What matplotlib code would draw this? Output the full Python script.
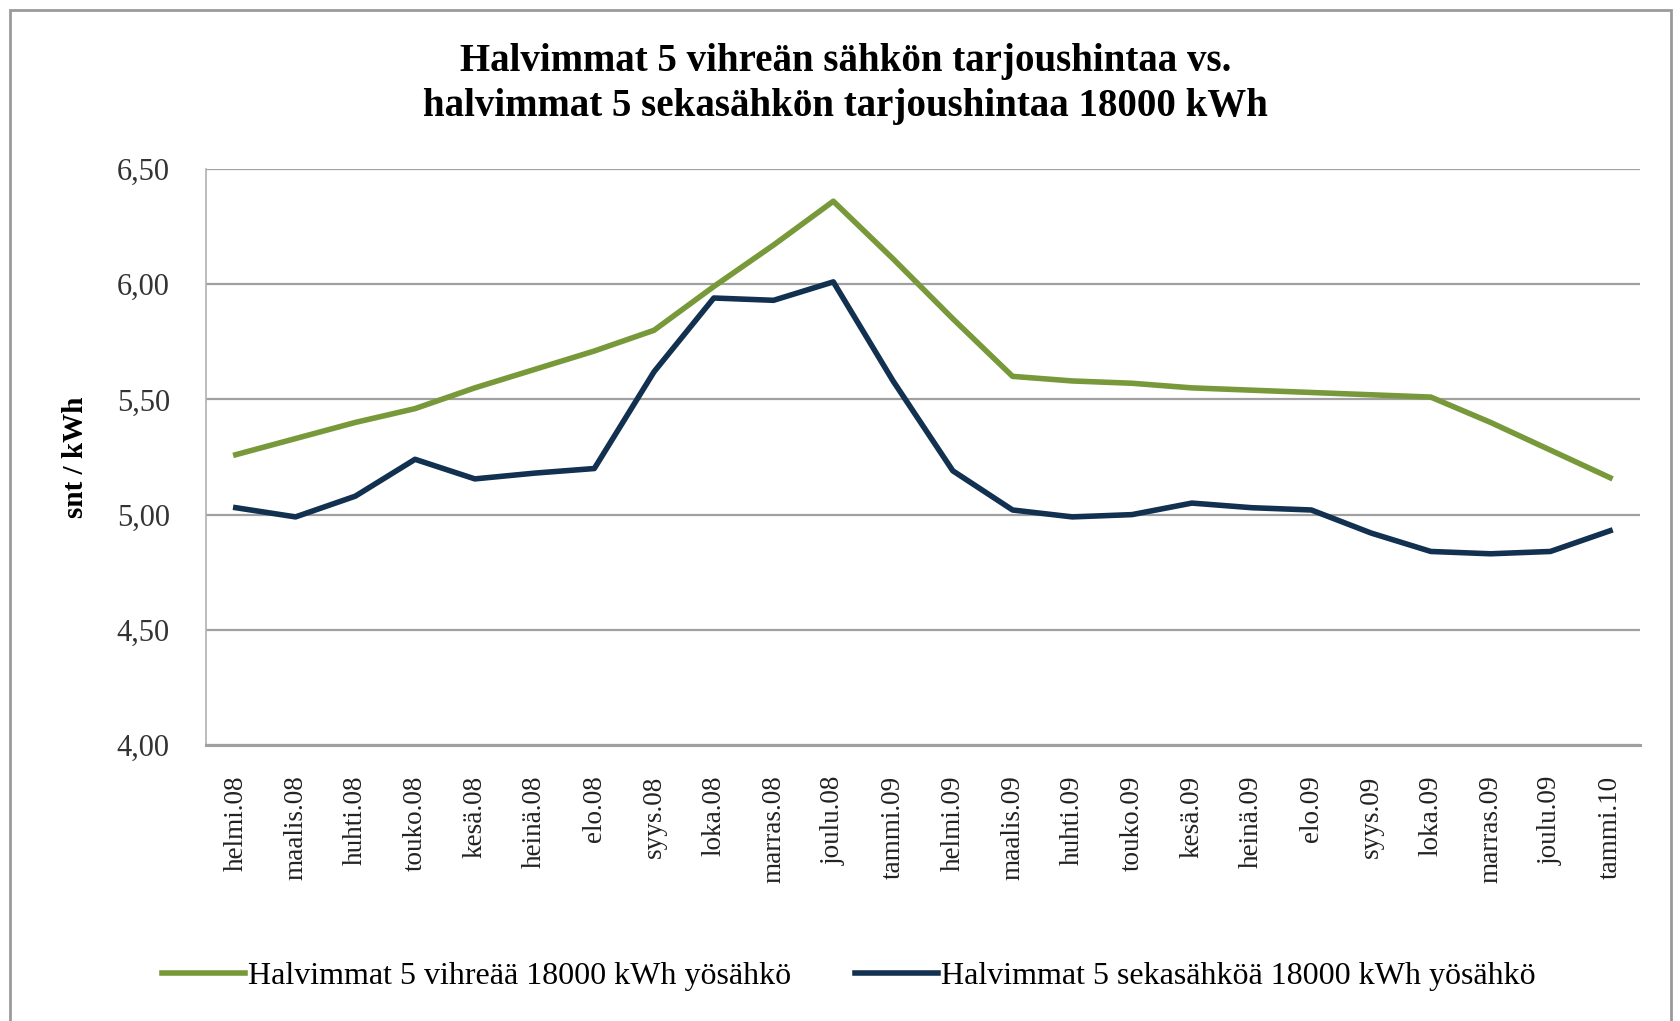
import numpy as np
import matplotlib.pyplot as plt
from matplotlib.patches import Rectangle


MONTHS = ['helmi.08', 'maalis.08', 'huhti.08', 'touko.08', 'kesä.08', 'heinä.08',
          'elo.08', 'syys.08', 'loka.08', 'marras.08', 'joulu.08', 'tammi.09',
          'helmi.09', 'maalis.09', 'huhti.09', 'touko.09', 'kesä.09', 'heinä.09',
          'elo.09', 'syys.09', 'loka.09', 'marras.09', 'joulu.09', 'tammi.10']

GREEN = [5.26, 5.33, 5.40, 5.46, 5.55, 5.63, 5.71, 5.80, 5.99, 6.17, 6.36, 6.11,
         5.85, 5.60, 5.58, 5.57, 5.55, 5.54, 5.53, 5.52, 5.51, 5.40, 5.28, 5.16]

MIXED = [5.03, 4.99, 5.08, 5.24, 5.155, 5.18, 5.20, 5.62, 5.94, 5.93, 6.01, 5.58,
         5.19, 5.02, 4.99, 5.00, 5.05, 5.03, 5.02, 4.92, 4.84, 4.83, 4.84, 4.93]

Y_TICKS = [4.00, 4.50, 5.00, 5.50, 6.00, 6.50]

LABEL_GREEN = 'Halvimmat 5 vihreää 18000 kWh yösähkö'
LABEL_MIXED = 'Halvimmat 5 sekasähköä 18000 kWh yösähkö'
TITLE = 'Halvimmat 5 vihreän sähkön tarjoushintaa vs.\nhalvimmat 5 sekasähkön tarjoushintaa 18000 kWh'


def main():
    plt.rcParams['font.family'] = ['Liberation Serif', 'DejaVu Serif']

    fig = plt.figure(figsize=(16.81, 10.21), dpi=100, facecolor='white')
    fig.patches.append(Rectangle((0.006, -0.01), 0.988, 1.0, transform=fig.transFigure,
                                 facecolor='none', edgecolor='#9a9a9a', linewidth=2,
                                 zorder=-1))

    ax = fig.add_axes([0.1225, 0.2703, 0.8531, 0.5642])
    x = np.arange(len(MONTHS))
    ax.plot(x, GREEN, color='#77993a', linewidth=4, label=LABEL_GREEN)
    ax.plot(x, MIXED, color='#12304f', linewidth=4, label=LABEL_MIXED)

    ax.set_xlim(-0.5, len(MONTHS) - 0.5)
    ax.set_ylim(4.0, 6.5)
    ax.set_yticks(Y_TICKS)
    ax.set_yticklabels([f'{v:.2f}'.replace('.', ',') for v in Y_TICKS], fontsize=22,
                       color='#333333')
    ax.set_xticks(x)
    ax.set_xticklabels(MONTHS, rotation=90, fontsize=19.5, color='#222222')
    ax.tick_params(axis='x', length=0, pad=22)
    ax.tick_params(axis='y', length=0, pad=26)
    ax.grid(axis='y', color='#a0a0a0', linewidth=1.6)
    ax.set_axisbelow(True)
    for side in ['top', 'right']:
        ax.spines[side].set_visible(False)
    ax.spines['left'].set_color('#b0b0b0')
    ax.spines['left'].set_linewidth(1.2)
    ax.spines['bottom'].set_color('#a0a0a0')
    ax.spines['bottom'].set_linewidth(2.2)

    ax.set_ylabel('snt / kWh', fontsize=21, fontweight='bold', labelpad=20)
    fig.text(0.503, 0.958, TITLE, ha='center', va='top', fontsize=28,
             fontweight='bold', linespacing=1.3)

    fig.legend(loc='center', bbox_to_anchor=(0.505, 0.044), ncol=2, frameon=False,
               fontsize=23, handlelength=2.6, handletextpad=0.1, columnspacing=2.0)

    fig.savefig('out.png', dpi=100)


if __name__ == '__main__':
    main()
